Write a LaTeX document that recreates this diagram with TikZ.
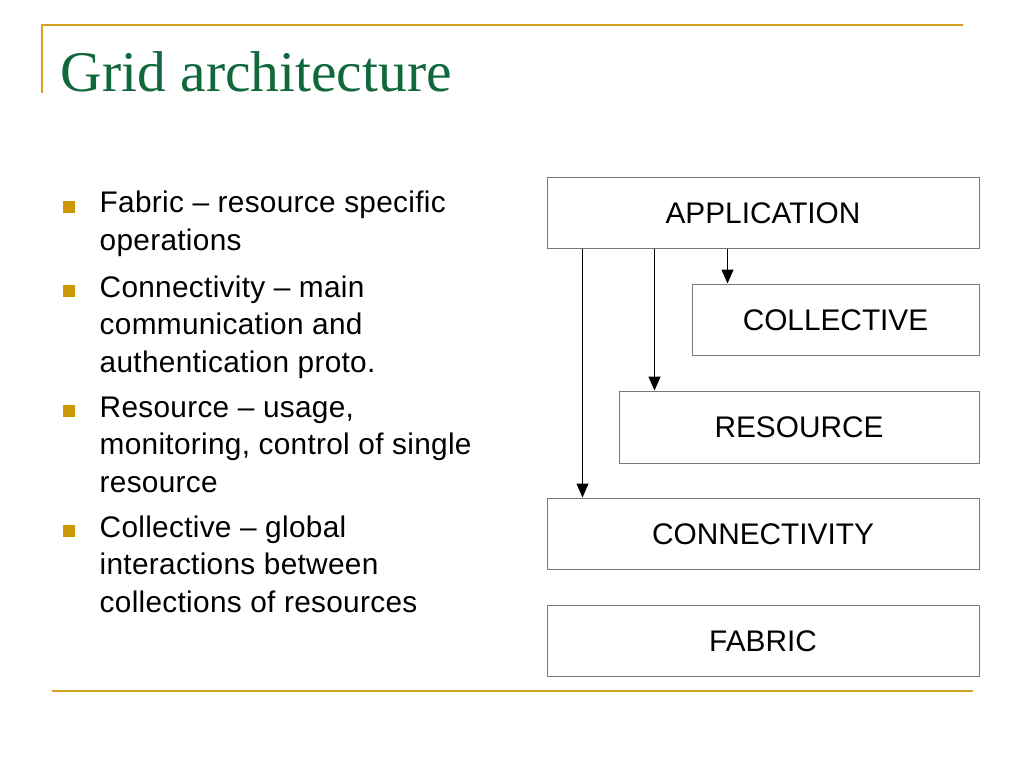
\documentclass[tikz,border=0pt]{standalone}
\usepackage{fontspec}
\setmainfont{Liberation Sans}
\newfontfamily\bulletfont{Liberation Sans}[LetterSpace=1]
\newfontfamily\titlefont{Liberation Serif}
\usetikzlibrary{arrows.meta}
\definecolor{gold}{RGB}{212,162,32}
\definecolor{bulletgold}{RGB}{204,153,0}
\definecolor{titlegreen}{RGB}{16,104,60}
\definecolor{boxgray}{RGB}{120,120,120}
\tikzset{
  rule/.style={draw=gold, line width=2pt},
  layerbox/.style={draw=boxgray, line width=1pt, inner sep=0pt, minimum height=71pt,
    text height=21.4pt, text depth=0pt, font=\fontsize{29.8}{34}\selectfont},
  bullettext/.style={anchor=base west, align=left, inner sep=0pt,
    font=\bulletfont\fontsize{29.8}{37.7}\selectfont},
  bulletsq/.style={fill=bulletgold, draw=none},
  arr/.style={draw=black, line width=1pt, -{Triangle[length=14pt,width=12pt]}}
}
\begin{document}
\begin{tikzpicture}[x=1pt,y=-1pt]
\useasboundingbox (0,0) rectangle (1024,768);
\fill[white] (0,0) rectangle (1024,768);
% decorative rules
\draw[rule] (42,25) -- (963,25);
\draw[rule] (42,24) -- (42,93);
\draw[rule] (52,691) -- (973,691);
% title
\node[anchor=base west, inner sep=0pt, text=titlegreen, font=\titlefont\fontsize{57.5}{60}\selectfont] (title) at (60.5,91.7) {Grid architecture};
% bullets (anchored at the baseline of their last line)
\node[bullettext] (b1) at (99.5,250.6) {Fabric – resource specific\\operations};
\node[bullettext] (b2) at (99.5,372.6) {Connectivity – main\\communication and\\authentication proto.};
\node[bullettext] (b3) at (99.5,492.6) {Resource – usage,\\monitoring, control of single\\resource};
\node[bullettext] (b4) at (99.5,612.6) {Collective – global\\interactions between\\collections of resources};
\fill[bulletsq] (63,201) rectangle (75,212.7);
\fill[bulletsq] (63,285.3) rectangle (75,297);
\fill[bulletsq] (63,405.3) rectangle (75,417);
\fill[bulletsq] (63,525.3) rectangle (75,537);
% layer boxes
\node[layerbox, minimum width=432pt] (app) at (763,212.5) {APPLICATION};
\node[layerbox, minimum width=287pt] (coll) at (835.5,319.5) {COLLECTIVE};
\node[layerbox, minimum width=360pt, minimum height=72pt] (res) at (799,427) {RESOURCE};
\node[layerbox, minimum width=432pt] (conn) at (763,533.5) {CONNECTIVITY};
\node[layerbox, minimum width=432pt] (fab) at (763,640.5) {FABRIC};
% arrows
\draw[arr] ([xshift=36pt]app.south west) -- ([xshift=36pt]conn.north west);
\draw[arr] ([xshift=108pt]app.south west) -- ([xshift=36pt]res.north west);
\draw[arr] ([xshift=181pt]app.south west) -- ([xshift=36pt]coll.north west);
\end{tikzpicture}
\end{document}
